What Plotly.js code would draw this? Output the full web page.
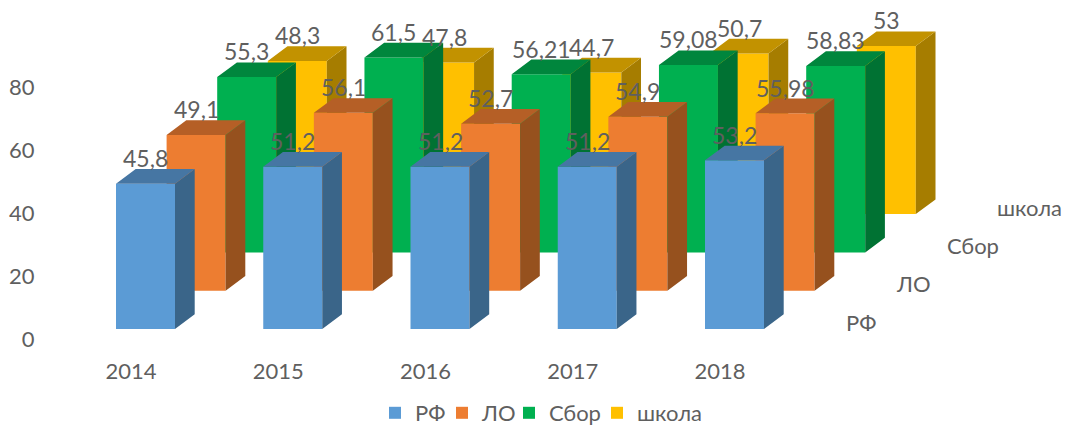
<!DOCTYPE html>
<html>
<head>
<meta charset="utf-8">
<script src="https://cdn.plot.ly/plotly-3.0.1.min.js"></script>
<style>html,body{margin:0;padding:0;background:#fff}#chart{width:1070px;height:427px}</style>
</head>
<body>
<div id="chart"></div>
<script>
const years = [2014, 2015, 2016, 2017, 2018];
const seriesNames = ['РФ', 'ЛО', 'Сбор', 'школа'];
const valuesRF = [45.8, 51.2, 51.2, 51.2, 53.2];
const valuesLO = [49.1, 56.1, 52.7, 54.9, 55.98];
const valuesSbor = [55.3, 61.5, 56.21, 59.08, 58.83];
const valuesShkola = [48.3, 47.8, 44.7, 50.7, 53];
const yTicks = [0, 20, 40, 60, 80];

const W = 1070, H = 427, mL = 45, mR = 5, mT = 0, mB = 78;
const plotW = W - mL - mR, plotH = H - mT - mB;
const pxPerYear = 147.25, pxPerUnit = 3.17;
const barW = 59 / pxPerYear, sideX = 19.7 / pxPerYear, sideY = 14.7 / pxPerUnit;
const font = 'Lato, "Open Sans", sans-serif', grey = '#5f5f5f';
const textSize = 22, labelSize = 23;

const styles = [
  {front: '#5B9BD5', side: '#3A6589', top: '#4676A3', values: valuesRF,     legendPx: 375},
  {front: '#ED7D31', side: '#96511E', top: '#B55F26', values: valuesLO,     legendPx: 442},
  {front: '#00B050', side: '#007233', top: '#00863D', values: valuesSbor,   legendPx: 509},
  {front: '#FFC000', side: '#A67D00', top: '#C29200', values: valuesShkola, legendPx: 597}
];

const traces = [];
const annotations = [];
const layout = {
  width: W, height: H,
  margin: {l: mL, r: mR, t: mT, b: mB, pad: 0, autoexpand: false},
  paper_bgcolor: '#fff', plot_bgcolor: '#fff',
  font: {family: font, size: textSize, color: grey},
  barmode: 'overlay',
  showlegend: true,
  hovermode: false,
  // base axes carry the tick labels (set apart from the bars, as in a perspective chart)
  xaxis: {
    range: [years[0] + (mL - 131) / pxPerYear, years[0] + (W - mR - 131) / pxPerYear],
    tickvals: years, ticktext: years.map(String), showgrid: false, zeroline: false, showline: false,
    ticks: 'outside', ticklen: 3, tickcolor: 'rgba(0,0,0,0)', tickfont: {size: textSize, color: grey, family: font}
  },
  yaxis: {
    range: [(339 - (H - mB)) / 3.15, (339 - mT) / 3.15],
    tickvals: yTicks, showgrid: false, zeroline: false, showline: false,
    ticks: 'outside', ticklen: 5, tickcolor: 'rgba(0,0,0,0)', tickfont: {size: textSize, color: grey, family: font}
  }
};

// anchors the base axes
traces.push({type: 'scatter', mode: 'none', x: years, y: yTicks, showlegend: false, hoverinfo: 'skip'});

// back series first so that nearer series cover it
[3, 2, 1, 0].forEach((k, order) => {
  const s = styles[k];
  const n = order + 2;
  const xa = 'x' + n, ya = 'y' + n;
  const leftPx = 145.5 + 50.6 * k;     // centre of the first bar in this row
  const zeroPx = 329 - 38.3 * k;       // baseline of this row
  layout['xaxis' + n] = {
    overlaying: 'x', visible: false, fixedrange: true,
    range: [years[0] + (mL - leftPx) / pxPerYear, years[0] + (W - mR - leftPx) / pxPerYear]
  };
  layout['yaxis' + n] = {
    overlaying: 'y', visible: false, fixedrange: true,
    range: [(zeroPx - (H - mB)) / pxPerUnit, (zeroPx - mT) / pxPerUnit]
  };

  const legendId = k === 0 ? 'legend' : 'legend' + (k + 1);
  traces.push({
    type: 'bar', name: seriesNames[k], x: years, y: s.values, width: barW,
    xaxis: xa, yaxis: ya, marker: {color: s.front, line: {width: 0}},
    legend: legendId, hoverinfo: 'skip'
  });

  const sx = [], sy = [], tx = [], ty = [];
  years.forEach((yr, i) => {
    const v = s.values[i], l = yr - barW / 2, r = yr + barW / 2;
    sx.push(r, r + sideX, r + sideX, r, null);
    sy.push(0, sideY, v + sideY, v, null);
    tx.push(l, r, r + sideX, l + sideX, null);
    ty.push(v, v, v + sideY, v + sideY, null);
  });
  const face = (x, y, c) => ({
    type: 'scatter', mode: 'lines', x, y, xaxis: xa, yaxis: ya, fill: 'toself', fillcolor: c,
    line: {width: 0, color: c}, showlegend: false, hoverinfo: 'skip', connectgaps: false
  });
  traces.push(face(sx, sy, s.side), face(tx, ty, s.top));

  layout[legendId] = {
    orientation: 'v', x: (s.legendPx - mL) / plotW, y: (H - 413 - mB) / plotH,
    xanchor: 'left', yanchor: 'middle', bgcolor: 'rgba(0,0,0,0)', borderwidth: 0,
    font: {size: textSize, color: grey, family: font}
  };

  years.forEach((yr, i) => {
    annotations.push({
      xref: xa, yref: ya, x: yr, y: s.values[i] + 8.1, showarrow: false,
      text: String(s.values[i]).replace('.', ','), font: {size: labelSize, color: grey, family: font},
      xanchor: 'center', yanchor: 'middle'
    });
  });
  annotations.push({
    xref: xa, yref: ya, x: years[4] + 109 / pxPerYear, y: 2.2, showarrow: false,
    text: seriesNames[k], font: {size: textSize, color: grey, family: font}, xanchor: 'left', yanchor: 'middle'
  });
});
layout.annotations = annotations;

Plotly.newPlot('chart', traces, layout, {displayModeBar: false, staticPlot: true});
</script>
</body>
</html>
